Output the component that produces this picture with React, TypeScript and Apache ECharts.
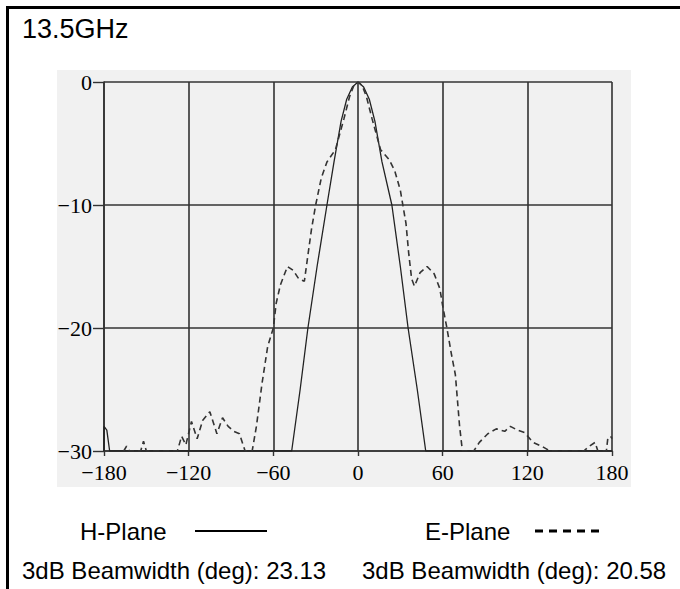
import React, { useEffect, useRef } from "react";
import * as echarts from "echarts";

const title = "13.5GHz";
const xTickValues = [-180, -120, -60, 0, 60, 120, 180];
const yTickValues = [-30, -20, -10, 0];

// H-Plane (solid)
const hAngle = [-180, -180, -178, -176, -47, -41, -35.5, -29, -22, -17, -12, -8, -4, 0, 4, 8, 12, 17, 24, 30, 35.5, 42, 48, 180];
const hDb = [-30, -28, -28.3, -30, -30, -25, -20, -15, -10, -6.5, -3.2, -1.4, -0.4, 0, -0.4, -1.4, -3.2, -6.5, -10, -15, -20, -25, -30, -30];

// E-Plane (dashed)
const eAngle = [
  -166, -164, -162, -154, -152, -150, -128, -125, -122, -118, -114, -110, -105, -100, -96, -92, -88, -84, -80,
  -75, -72, -68, -64, -60, -58, -55, -50, -46, -42, -38, -36, -33, -30, -26, -22, -16, -10, -6, -3, 0,
  3, 6, 10, 16, 22, 26, 30, 34, 36, 38, 40, 44, 49, 54, 58, 60, 63, 66, 69, 72, 74,
  82, 86, 92, 98, 104, 108, 113, 118, 124, 130, 136, 160, 164, 168, 170, 176, 177, 179, 180,
];
const eDb = [
  -30, -29.6, -30, -30, -29.2, -30, -30, -28.8, -29.5, -27.6, -29, -27.5, -26.8, -28.6, -27.3, -28, -28.4, -28.6, -30,
  -30, -28, -24.5, -21.5, -20, -18, -16.5, -15, -15.3, -16, -16.2, -14.5, -12, -10, -7.8, -6.5, -5.5, -3, -1.2, -0.3, 0,
  -0.3, -1.2, -3, -5.5, -6.3, -7.2, -8.8, -11.5, -14, -16, -16.6, -15.5, -15, -15.6, -16.8, -18.2, -20, -22, -23.8, -28, -30,
  -30, -29.3, -28.6, -28.2, -28.4, -28, -28.3, -28.5, -29.3, -29.6, -30, -30, -29.6, -29.3, -30, -30, -29, -28.8, -29,
];

const legendH = "H-Plane";
const legendE = "E-Plane";
const beamH = "3dB Beamwidth (deg): 23.13";
const beamE = "3dB Beamwidth (deg): 20.58";

const fmt = (v: number) => (v < 0 ? "\u2212" + Math.abs(v) : String(v));

export default function App() {
  const ref = useRef<HTMLDivElement>(null);
  useEffect(() => {
    if (!ref.current) return;
    const chart = echarts.init(ref.current, undefined, { renderer: "svg" });
    const gridColor = "#333";
    const sans = "'Liberation Sans', Arial, sans-serif";
    const serif = "'Liberation Serif', 'Times New Roman', serif";
    chart.setOption({
      animation: false,
      backgroundColor: "#ffffff",
      grid: { left: 104, top: 82, width: 508, height: 369, containLabel: false },
      xAxis: {
        type: "value",
        min: xTickValues[0],
        max: xTickValues[xTickValues.length - 1],
        interval: 60,
        axisLine: { show: true, onZero: false, lineStyle: { color: gridColor, width: 1.6 } },
        axisTick: { show: true, length: 5, lineStyle: { color: gridColor, width: 1.4 } },
        splitLine: { show: true, lineStyle: { color: gridColor, width: 1.6 } },
        axisLabel: { formatter: fmt, fontFamily: serif, fontSize: 22, color: "#000", margin: 10 },
      },
      yAxis: {
        type: "value",
        min: yTickValues[0],
        max: yTickValues[yTickValues.length - 1],
        interval: 10,
        axisLine: { show: true, onZero: false, lineStyle: { color: gridColor, width: 1.6 } },
        axisTick: { show: true, length: 11, lineStyle: { color: gridColor, width: 1.4 } },
        splitLine: { show: true, lineStyle: { color: gridColor, width: 1.6 } },
        axisLabel: { formatter: fmt, fontFamily: serif, fontSize: 22, color: "#000", margin: 12 },
      },
      series: [
        {
          name: legendH,
          type: "line",
          symbol: "none",
          data: hAngle.map((a, i) => [a, hDb[i]]),
          lineStyle: { color: "#222", width: 1.3, type: "solid" },
          z: 3,
        },
        {
          name: legendE,
          type: "line",
          symbol: "none",
          data: eAngle.map((a, i) => [a, eDb[i]]),
          lineStyle: { color: "#333", width: 1.6, type: [6, 4] },
          z: 4,
        },
      ],
      graphic: [
        {
          type: "rect",
          z: -10,
          silent: true,
          shape: { x: 57, y: 70, width: 574, height: 417 },
          style: { fill: "#f1f1f1" },
        },
        {
          type: "rect",
          z: 100,
          silent: true,
          shape: { x: 7.5, y: 7.5, width: 700, height: 700 },
          style: { fill: "none", stroke: "#000", lineWidth: 3 },
        },
        {
          type: "text",
          x: 22,
          y: 29,
          style: { text: title, font: `27px ${sans}`, fill: "#000", textVerticalAlign: "middle" },
        },
        {
          type: "text",
          x: 80,
          y: 531,
          style: { text: legendH, font: `24px ${sans}`, fill: "#000", textVerticalAlign: "middle" },
        },
        {
          type: "line",
          shape: { x1: 195, y1: 531, x2: 267, y2: 531 },
          style: { stroke: "#000", lineWidth: 2 },
        },
        {
          type: "text",
          x: 425,
          y: 531,
          style: { text: legendE, font: `24px ${sans}`, fill: "#000", textVerticalAlign: "middle" },
        },
        {
          type: "line",
          shape: { x1: 535, y1: 531, x2: 600, y2: 531 },
          style: { stroke: "#000", lineWidth: 3, lineDash: [8, 6] },
        },
        {
          type: "text",
          x: 22,
          y: 570,
          style: { text: beamH, font: `24px ${sans}`, fill: "#000", textVerticalAlign: "middle" },
        },
        {
          type: "text",
          x: 362,
          y: 570,
          style: { text: beamE, font: `24px ${sans}`, fill: "#000", textVerticalAlign: "middle" },
        },
      ],
    });
    return () => chart.dispose();
  }, []);
  return (
    <div
      ref={ref}
      style={{ position: "fixed", left: 0, top: 0, width: 680, height: 589, background: "#fff" }}
    />
  );
}
